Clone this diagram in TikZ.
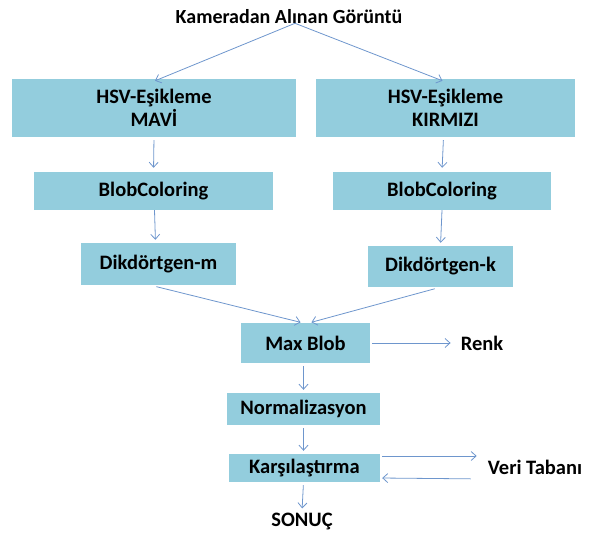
\documentclass[tikz,border=0pt]{standalone}
\usepackage{fontspec}
\setmainfont{Carlito}
\usetikzlibrary{arrows.meta}
\definecolor{kutu}{RGB}{147,205,221}
\definecolor{ok}{RGB}{110,150,205}
\begin{document}
\begin{tikzpicture}[
  x=1pt, y=-1pt,
  font=\bfseries\fontsize{20.5}{23}\selectfont,
  kutu/.style={fill=kutu,inner sep=0pt,align=center},
  etiket/.style={inner sep=1pt},
  ok/.style={draw=ok,line width=0.8pt,-{Straight Barb[length=5pt,width=9pt]}}]
\useasboundingbox (0,0) rectangle (598,536);
\node[etiket,font=\bfseries\fontsize{20}{23}\selectfont] (baslik) at (289,17) {Kameradan Alınan Görüntü};
\node[kutu,minimum width=284pt,minimum height=58pt] (hsvm) at (154,108) {HSV-Eşikleme\\MAVİ};
\node[kutu,minimum width=259pt,minimum height=58pt] (hsvk) at (445.5,108) {HSV-Eşikleme\\KIRMIZI};
\node[kutu,minimum width=239pt,minimum height=38pt] (blobm) at (153.5,191) {BlobColoring};
\node[kutu,minimum width=218pt,minimum height=38pt] (blobk) at (442,191) {BlobColoring};
\node[kutu,minimum width=155pt,minimum height=42pt] (dikm) at (158.5,264) {Dikdörtgen-m};
\node[kutu,minimum width=145pt,minimum height=41pt] (dikk) at (440.5,266.5) {Dikdörtgen-k};
\node[kutu,minimum width=129pt,minimum height=40pt] (maxb) at (305.5,343) {Max Blob};
\node[etiket] (renk) at (482,343) {Renk};
\node[kutu,minimum width=153pt,minimum height=32pt] (norm) at (303.5,409) {Normalizasyon};
\node[kutu,minimum width=151pt,minimum height=28pt] (kars) at (304.5,468) {Karşılaştırma};
\node[etiket] (veri) at (535,467) {Veri Tabanı};
\node[etiket] (sonuc) at (302,521) {SONUÇ};
\draw[ok] ([xshift=6pt,yshift=2pt]baslik.south) -- ([xshift=1pt,yshift=-2pt]hsvm.north);
\draw[ok] ([xshift=6pt,yshift=2pt]baslik.south) -- ([xshift=-3pt,yshift=-2pt]hsvk.north);
\draw[ok,shorten <=3pt,shorten >=4pt] (hsvm.south) -- (blobm.north);
\draw[ok,shorten <=3pt,shorten >=4pt] ([xshift=-2pt]hsvk.south) -- (blobk.north);
\draw[ok,shorten >=3pt] ([xshift=1pt]blobm.south) -- ([xshift=-3pt]dikm.north);
\draw[ok,shorten >=3pt] (blobk.south) -- (dikk.north);
\draw[ok,shorten <=6pt,shorten >=2pt] ([xshift=-8pt]dikm.south) -- ([xshift=-3pt]maxb.north);
\draw[ok,shorten <=6pt,shorten >=2pt] (dikk.south) -- ([xshift=4pt]maxb.north);
\draw[ok,shorten <=2pt,shorten >=9pt] (maxb.east) -- (renk.west);
\draw[ok,shorten <=3pt,shorten >=3pt] ([xshift=-2pt]maxb.south) -- (norm.north);
\draw[ok,shorten <=3pt,shorten >=3pt] (norm.south) -- ([xshift=-1pt]kars.north);
\draw[ok,shorten <=2pt,shorten >=10pt] ([yshift=12pt]kars.east) -- ([yshift=11pt]veri.west);
\draw[ok,shorten <=16pt,shorten >=2pt] ([yshift=-12pt]veri.west) -- ([yshift=-10pt]kars.east);
\draw[ok,shorten <=3pt,shorten >=3pt] ([xshift=-1pt]kars.south) -- (sonuc.north);
\end{tikzpicture}
\end{document}
